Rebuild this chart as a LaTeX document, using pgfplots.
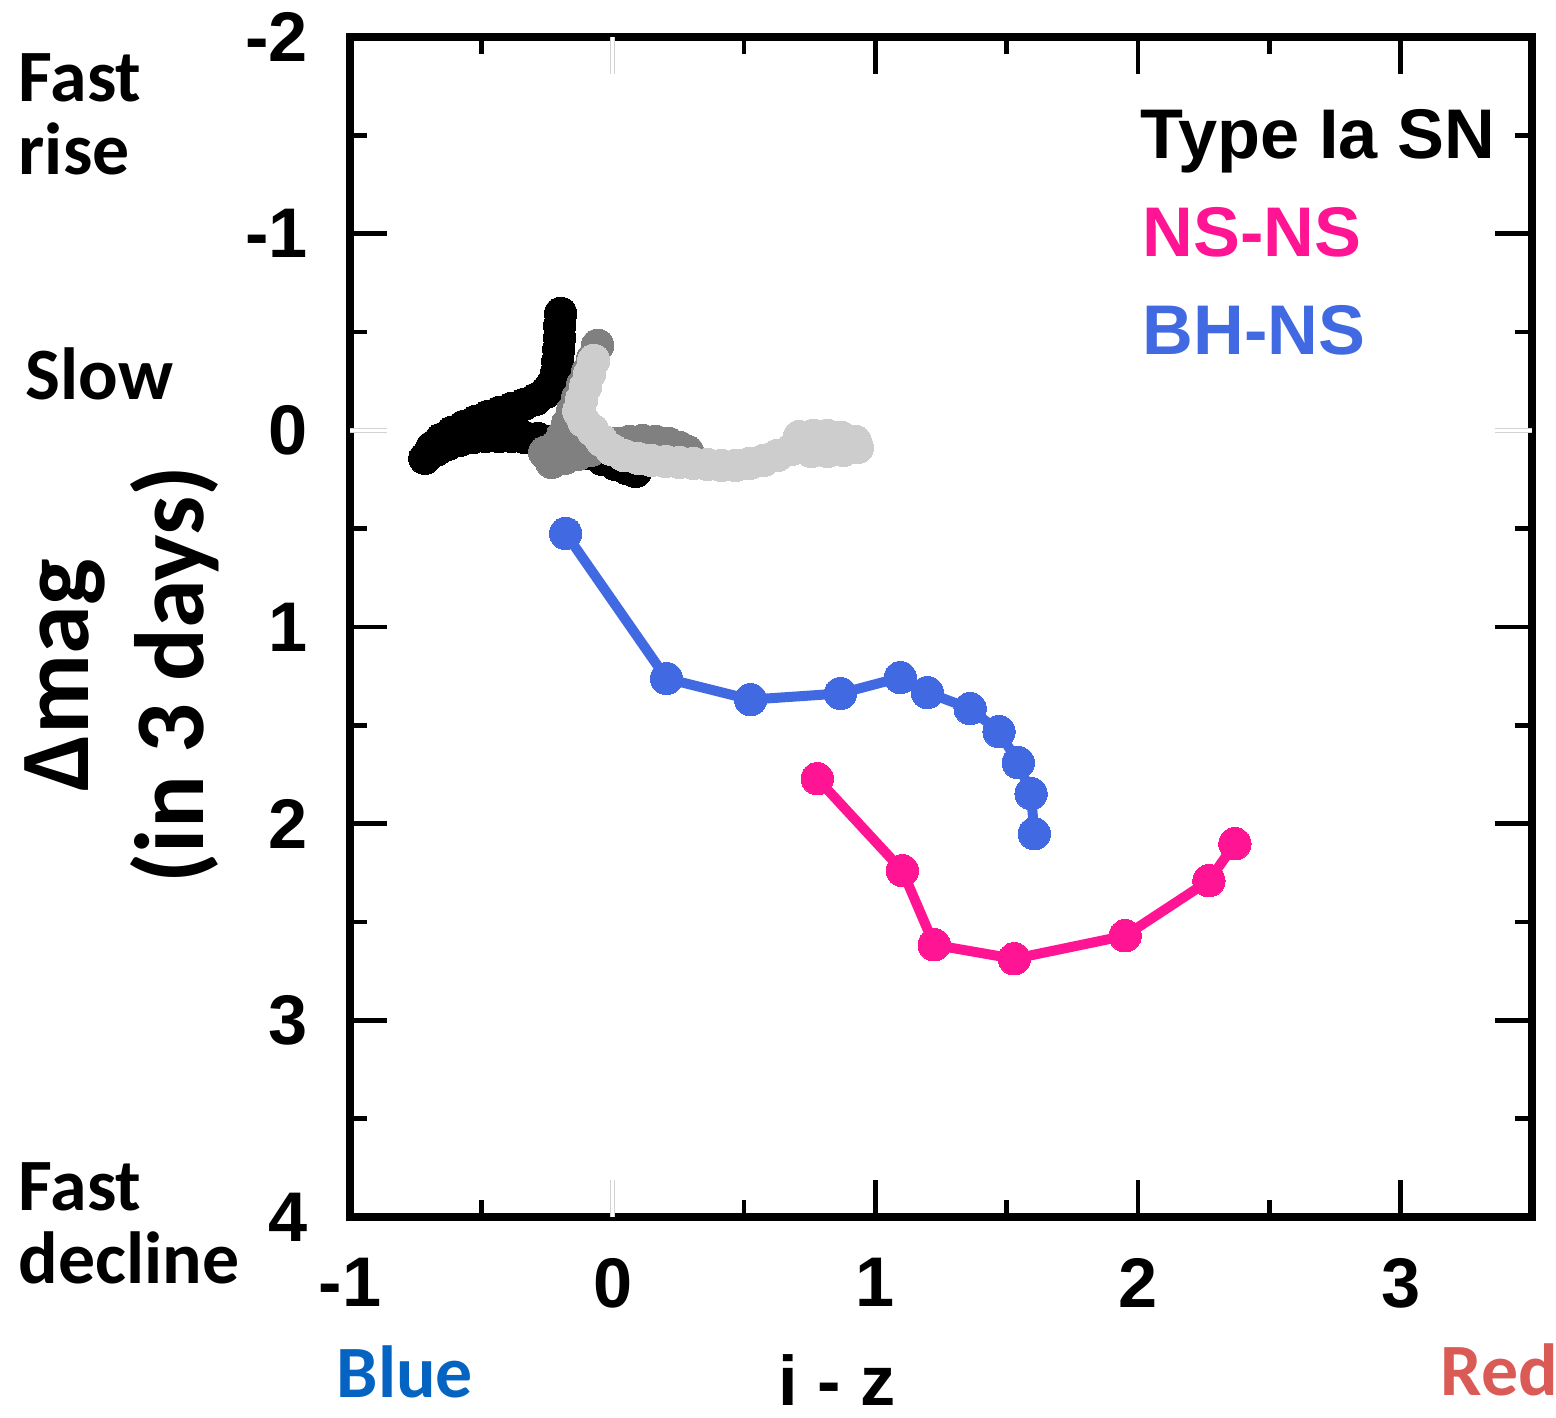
\documentclass[border=0pt]{standalone}
\usepackage{fontspec}
\setmainfont{Liberation Sans}
\newfontfamily\calibri{Carlito}
\usepackage{pgfplots}
\pgfplotsset{compat=1.18}

\definecolor{nsns}{RGB}{255,20,147}
\definecolor{bhns}{RGB}{65,105,225}
\definecolor{snmid}{RGB}{128,128,128}
\definecolor{snlight}{RGB}{205,205,205}
\definecolor{labelblue}{RGB}{5,99,193}
\definecolor{labelred}{RGB}{218,90,86}

\begin{document}
\begin{tikzpicture}
% fixed page frame around the axis box
\useasboundingbox (-35mm,-20mm) rectangle (120.6mm,121.7mm);

\begin{axis}[
  at={(0,0)}, anchor=south west,
  scale only axis, width=118.2mm, height=118mm,
  xmin=-1, xmax=3.5, ymin=-2, ymax=4, y dir=reverse,
  axis line style={line width=0.8mm},
  xtick={-1,1,2,3}, ytick={-2,-1,1,2,3,4},
  extra x ticks={0}, extra y ticks={0},
  extra tick style={tick style={draw=gray!35, line width=0.1mm, double=white, double distance=0.3mm}},
  minor xtick={-0.5,0.5,1.5,2.5},
  minor ytick={-1.5,-0.5,0.5,1.5,2.5,3.5},
  tick align=inside,
  major tick length=3.7mm, minor tick length=1.7mm,
  tick style={black, line width=0.45mm},
  tick label style={font=\bfseries\fontsize{20}{24}\selectfont},
  /pgf/number format/assume math mode=true,
  xticklabel style={yshift=-2.9mm},
  yticklabel style={xshift=-3mm},
]

% Type Ia SN tracks: black, mid grey, light grey
\addplot[black, only marks, mark=*, mark size=4.6pt, mark options={draw=black, fill=black, line width=0pt}] coordinates {
  (-0.198,-0.595) (-0.202,-0.534) (-0.202,-0.473) (-0.205,-0.412) (-0.209,-0.351)
  (-0.213,-0.295) (-0.228,-0.239) (-0.255,-0.193) (-0.293,-0.158) (-0.338,-0.132)
  (-0.384,-0.112) (-0.430,-0.092) (-0.475,-0.071) (-0.521,-0.046) (-0.567,-0.020)
  (-0.612,0.010) (-0.654,0.046) (-0.688,0.087) (-0.715,0.142)
  (-0.673,0.102) (-0.627,0.071) (-0.582,0.051) (-0.532,0.036) (-0.483,0.031)
  (-0.433,0.031) (-0.384,0.031) (-0.335,0.036) (-0.285,0.041) (-0.236,0.056)
  (-0.186,0.071) (-0.137,0.092) (-0.087,0.117) (-0.038,0.148) (0.011,0.173)
  (0.053,0.193) (0.087,0.209)
};
\addplot[snmid, only marks, mark=*, mark size=4.6pt, mark options={draw=snmid, fill=snmid, line width=0pt}] coordinates {
  (-0.057,-0.433) (-0.076,-0.366) (-0.095,-0.300) (-0.114,-0.234) (-0.133,-0.168)
  (-0.152,-0.102) (-0.171,-0.036) (-0.190,0.025) (-0.217,0.081) (-0.243,0.132)
  (-0.259,0.112) (-0.232,0.163) (-0.183,0.142) (-0.133,0.122) (-0.084,0.102)
  (-0.034,0.081) (0.015,0.066) (0.065,0.056) (0.114,0.051) (0.163,0.056)
  (0.213,0.066) (0.255,0.087) (0.285,0.107)
};
\addplot[snlight, only marks, mark=*, mark size=4.6pt, mark options={draw=snlight, fill=snlight, line width=0pt}] coordinates {
  (-0.072,-0.356) (-0.087,-0.290) (-0.103,-0.224) (-0.118,-0.158) (-0.129,-0.097)
  (-0.110,-0.046) (-0.076,0.000) (-0.042,0.051) (-0.004,0.097) (0.042,0.127)
  (0.095,0.142) (0.148,0.153) (0.202,0.158) (0.255,0.163) (0.308,0.168)
  (0.361,0.173) (0.414,0.178) (0.468,0.178) (0.521,0.168) (0.574,0.153)
  (0.627,0.127) (0.681,0.097) (0.726,0.066)
  (0.711,0.031) (0.764,0.025) (0.817,0.025) (0.871,0.036) (0.924,0.056)
  (0.932,0.087) (0.878,0.102) (0.817,0.107) (0.757,0.107)
};

% BH-NS merger
\addplot[bhns, line width=1mm, line join=round, mark=*, mark size=4.6pt,
  mark options={draw=bhns, fill=bhns, line width=0pt}] coordinates {
  (-0.179,0.524) (0.205,1.262) (0.525,1.369) (0.867,1.338) (1.095,1.257)
  (1.198,1.333) (1.361,1.415) (1.471,1.532) (1.544,1.690) (1.593,1.847)
  (1.605,2.051)
};

% NS-NS merger
\addplot[nsns, line width=1mm, line join=round, mark=*, mark size=4.6pt,
  mark options={draw=nsns, fill=nsns, line width=0pt}] coordinates {
  (0.779,1.771) (1.103,2.239) (1.224,2.616) (1.529,2.687) (1.951,2.570)
  (2.270,2.290) (2.369,2.102)
};
\end{axis}

% legend entries and x-axis title
\begin{scope}[every node/.style={inner sep=0pt, anchor=base west, font=\bfseries\fontsize{20}{24}\selectfont}]
  \node at (79.0mm,105.8mm) {Type Ia SN};
  \node[text=nsns] at (79.2mm,96.0mm) {NS-NS};
  \node[text=bhns] at (79.2mm,86.2mm) {BH-NS};
  \node[anchor=base] at (48.7mm,-18.8mm) {i - z};
\end{scope}

% annotations on the left and below
\begin{scope}[every node/.style={inner sep=0pt, anchor=base west, font=\calibri\bfseries\fontsize{21}{25}\selectfont}]
  \node at (-33.2mm,111.5mm) {Fast};
  \node at (-33.2mm,104.2mm) {rise};
  \node at (-32.5mm,81.7mm) {Slow};
  \node at (-33.2mm,0.7mm) {Fast};
  \node at (-33.2mm,-6.6mm) {decline};
  \node[text=labelblue] at (-1.4mm,-18.0mm) {Blue};
  \node[text=labelred] at (109.0mm,-17.8mm) {Red};
\end{scope}

% y-axis title, two rotated lines
\begin{scope}[every node/.style={inner sep=0pt, anchor=base, rotate=90, font=\calibri\bfseries\fontsize{28}{32}\selectfont}]
  \node at (-26.1mm,54.2mm) {Δmag};
  \node at (-14.6mm,54.2mm) {(in 3 days)};
\end{scope}
\end{tikzpicture}
\end{document}
